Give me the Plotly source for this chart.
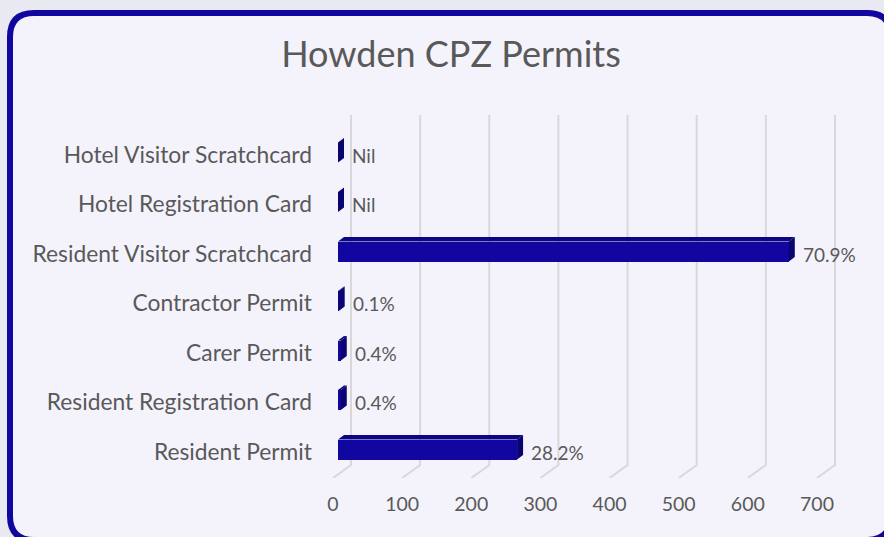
import plotly.graph_objects as go

# ---------------- data ----------------
categories = [
    "Resident Permit",
    "Resident Registration Card",
    "Carer Permit",
    "Contractor Permit",
    "Resident Visitor Scratchcard",
    "Hotel Registration Card",
    "Hotel Visitor Scratchcard",
]
counts = [259, 4, 4, 1, 652, 0, 0]
tick_values = [0, 100, 200, 300, 400, 500, 600, 700]
title_text = "Howden CPZ Permits"

total = sum(counts)
value_labels = ["Nil" if c == 0 else f"{100 * c / total:.1f}%" for c in counts]

# ---------------- geometry / style ----------------
FIG_W, FIG_H = 884, 537
ML, MR, MT, MB = 333, 24, 112, 59
PLOT_W = FIG_W - ML - MR
PLOT_H = FIG_H - MT - MB
SX = 0.6914          # px per data unit (x)
ROW = 49.5           # px per category
X_MAX = PLOT_W / SX
Y_MIN = -(FIG_H - MB - 452) / ROW
Y_MAX = Y_MIN + PLOT_H / ROW

FONT = "Lato"
TEXT_COL = "#595959"
BAR_FRONT = "#11069f"
BAR_TOP = "#0c0584"
BAR_SIDE = "#090470"
BORDER = "#11069f"
GRID = "#d8d8dc"

def ux(px):      # pixels -> x data units
    return px / SX

def uy(px):      # pixels -> y data units
    return px / ROW

def paper_x(px):
    return (px - ML) / PLOT_W

def paper_y(py):
    return (FIG_H - MB - py) / PLOT_H

idx = list(range(len(categories)))

BAR_BASE = ux(5)       # bars sit a little behind the front plane
BAR_LIFT = uy(2.5)
BAR_HALF = uy(10)
DEP_X = ux(6)
DEP_Y = uy(4.5)

fig = go.Figure()

fig.add_trace(go.Bar(
    y=idx, x=counts, base=BAR_BASE, orientation="h",
    width=2 * BAR_HALF, offset=-BAR_HALF + BAR_LIFT,
    marker=dict(color=BAR_FRONT, line=dict(width=0)),
    hoverinfo="skip", showlegend=False,
))

shapes = []

# outer rounded frame
bx0, by0, bx1, by1, r = 10, 13, 891, 540, 24
def P(x, y):
    return f"{paper_x(x):.5f},{paper_y(y):.5f}"
frame = (f"M {P(bx0 + r, by0)} L {P(bx1 - r, by0)} Q {P(bx1, by0)} {P(bx1, by0 + r)} "
         f"L {P(bx1, by1 - r)} Q {P(bx1, by1)} {P(bx1 - r, by1)} "
         f"L {P(bx0 + r, by1)} Q {P(bx0, by1)} {P(bx0, by1 - r)} "
         f"L {P(bx0, by0 + r)} Q {P(bx0, by0)} {P(bx0 + r, by0)} Z")
shapes.append(dict(type="path", xref="paper", yref="paper", path=frame,
                   fillcolor="#f4f3fc", line=dict(color=BORDER, width=6), layer="below"))

# 3-D style grid lines (back wall + floor diagonal)
GX = ux(18)
GY = uy(13)
y_top = (452 - 115) / ROW
for k in tick_values:
    path = f"M {k + GX},{y_top} L {k + GX},{Y_MIN + GY} L {k},{Y_MIN}"
    shapes.append(dict(type="path", xref="x", yref="y", path=path,
                       line=dict(color=GRID, width=2), layer="below"))

# bar top and side faces
for i, v in zip(idx, counts):
    x0 = BAR_BASE
    x1 = BAR_BASE + v
    yb = i + BAR_LIFT - BAR_HALF
    yt = i + BAR_LIFT + BAR_HALF
    if v > 0:
        top = (f"M {x0},{yt} L {x1},{yt} L {x1 + DEP_X},{yt + DEP_Y} "
               f"L {x0 + DEP_X},{yt + DEP_Y} Z")
        shapes.append(dict(type="path", xref="x", yref="y", path=top,
                           fillcolor=BAR_TOP, line=dict(width=0), layer="above"))
    side = (f"M {x1},{yb} L {x1},{yt} L {x1 + DEP_X},{yt + DEP_Y} "
            f"L {x1 + DEP_X},{yb + DEP_Y} Z")
    shapes.append(dict(type="path", xref="x", yref="y", path=side,
                       fillcolor=BAR_SIDE, line=dict(width=0), layer="above"))

annotations = []
for i, v, lab in zip(idx, counts, value_labels):
    annotations.append(dict(
        x=BAR_BASE + v, y=i, xref="x", yref="y", text=lab, showarrow=False,
        xanchor="left", yanchor="middle", xshift=12,
        font=dict(family=FONT, size=19, color=TEXT_COL),
    ))

fig.update_layout(
    width=FIG_W, height=FIG_H,
    margin=dict(l=ML, r=MR, t=MT, b=MB, pad=0),
    paper_bgcolor="#e9e9f1",
    plot_bgcolor="rgba(0,0,0,0)",
    shapes=shapes,
    annotations=annotations,
    showlegend=False,
    bargap=0,
    title=dict(text=title_text, x=451 / FIG_W, xref="container", xanchor="center",
               y=1 - 54 / FIG_H, yref="container", yanchor="middle",
               font=dict(family=FONT, size=36, color=TEXT_COL)),
    xaxis=dict(range=[0, X_MAX], tickvals=tick_values, ticktext=[str(t) for t in tick_values],
               showgrid=False, zeroline=False, showline=False, ticks="",
               ticklabelstandoff=12,
               tickfont=dict(family=FONT, size=19.5, color=TEXT_COL), fixedrange=True),
    yaxis=dict(range=[Y_MIN, Y_MAX], tickvals=idx, ticktext=categories,
               showgrid=False, zeroline=False, showline=False, ticks="",
               ticklabelstandoff=20,
               tickfont=dict(family=FONT, size=22.8, color=TEXT_COL), fixedrange=True),
)

fig.write_html(
    "out.html",
    config={"displayModeBar": False},
    post_script="document.body.style.margin='0';document.body.style.background='#e9e9f1';",
)
